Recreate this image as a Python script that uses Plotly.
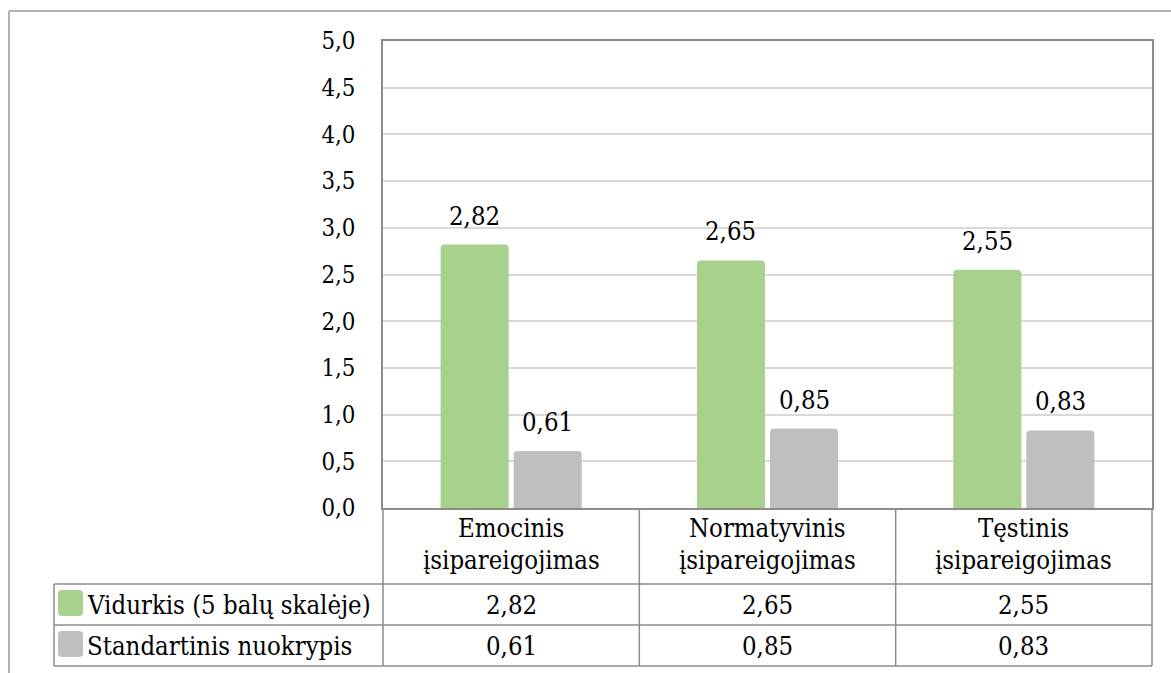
import plotly.graph_objects as go

# Data
categories = ["Emocinis<br>įsipareigojimas", "Normatyvinis<br>įsipareigojimas", "Tęstinis<br>įsipareigojimas"]
series_names = ["Vidurkis (5 balų skalėje)", "Standartinis nuokrypis"]
mean_values = [2.82, 2.65, 2.55]
sd_values = [0.61, 0.85, 0.83]
y_ticks = [0.0, 0.5, 1.0, 1.5, 2.0, 2.5, 3.0, 3.5, 4.0, 4.5, 5.0]

# Styling
W, H = 1171, 673
GREEN = "#A9D18E"
GREY = "#BFBFBF"
LINE = "#8C8C8C"
GRID = "#D9D9D9"
FONT = "DejaVu Serif Condensed"
TICK_SIZE = 23.8
TEXT_SIZE = 25.5
BARGAP = 0.43
GROUPGAP = 0.068


def fx(x):
    return x / W


def fy(y):
    return 1 - y / H


def fmt(v):
    return f"{v:.2f}".replace(".", ",")


# plot-area edges in pixels
PL, PR, PT, PB = 383, 1152, 41, 508
TL = 54                      # left edge of the legend column
ROW_TOP, ROW_MID, ROW_BOT = 584, 625, 666

x_idx = list(range(len(categories)))
series_values = [mean_values, sd_values]
colors = [GREEN, GREY]

fig = go.Figure()
for name, vals, col in zip(series_names, series_values, colors):
    fig.add_trace(go.Bar(
        x=x_idx, y=vals, name=name,
        marker=dict(color=col, line=dict(width=0), cornerradius=4),
        showlegend=False,
    ))

shapes = []


def hline(y, x0, x1, color=LINE, width=1.5):
    shapes.append(dict(type="line", xref="paper", yref="paper",
                       x0=fx(x0), x1=fx(x1), y0=fy(y), y1=fy(y),
                       line=dict(color=color, width=width)))


def vline(x, y0, y1, color=LINE, width=1.5):
    shapes.append(dict(type="line", xref="paper", yref="paper",
                       x0=fx(x), x1=fx(x), y0=fy(y0), y1=fy(y1),
                       line=dict(color=color, width=width)))


# outer chart frame
hline(11, 9, W, color="#9A9A9A", width=1.5)
vline(9, 11, H, color="#9A9A9A", width=1.5)

# data table grid
for y in (ROW_TOP, ROW_MID, ROW_BOT):
    hline(y, TL, PR)
vline(TL, ROW_TOP, ROW_BOT)
cat_w = (PR - PL) / len(categories)
for i in range(len(categories) + 1):
    vline(PL + i * cat_w, PB, ROW_BOT)

# legend keys in the table rows
def key_path(x0, y0, x1, y1, r=4):
    X0, X1 = fx(x0), fx(x1)
    Y0, Y1 = fy(y0), fy(y1)
    rx, ry = r / W, r / H
    return (f"M{X0+rx},{Y0} L{X1-rx},{Y0} Q{X1},{Y0} {X1},{Y0-ry} "
            f"L{X1},{Y1+ry} Q{X1},{Y1} {X1-rx},{Y1} L{X0+rx},{Y1} "
            f"Q{X0},{Y1} {X0},{Y1+ry} L{X0},{Y0-ry} Q{X0},{Y0} {X0+rx},{Y0} Z")


rows = [(ROW_TOP, ROW_MID), (ROW_MID, ROW_BOT)]
for (r0, r1), col in zip(rows, colors):
    shapes.append(dict(type="path", xref="paper", yref="paper",
                       path=key_path(58, r0 + 6, 83, r1 - 9),
                       fillcolor=col, line=dict(width=0)))

annotations = []
# value labels above the bars (grouped-bar offsets derived from the gap settings)
slot = (1 - BARGAP) / len(series_values)
for k, vals in enumerate(series_values):
    off = (k - (len(series_values) - 1) / 2) * slot
    for i, v in enumerate(vals):
        annotations.append(dict(xref="x", yref="y", x=i + off, y=v, text=fmt(v),
                                showarrow=False, xanchor="center", yanchor="bottom", yshift=12,
                                font=dict(family=FONT, size=TEXT_SIZE, color="black")))
# series names
for (r0, r1), name in zip(rows, series_names):
    annotations.append(dict(xref="paper", yref="paper", x=fx(85), y=fy((r0 + r1) / 2),
                            text=name, showarrow=False, xanchor="left", yanchor="middle",
                            font=dict(family=FONT, size=TEXT_SIZE, color="black")))
# category labels, one annotation per line
CAT_LINES_Y = [528, 560]
for i, cat in enumerate(categories):
    for line, ly in zip(cat.split("<br>"), CAT_LINES_Y):
        annotations.append(dict(xref="x", yref="paper", x=i, y=fy(ly),
                                text=line, showarrow=False, xanchor="center", yanchor="middle",
                                font=dict(family=FONT, size=TEXT_SIZE, color="black")))
# table values
for (r0, r1), vals in zip(rows, series_values):
    for i, v in enumerate(vals):
        annotations.append(dict(xref="x", yref="paper", x=i, y=fy((r0 + r1) / 2),
                                text=fmt(v), showarrow=False, xanchor="center", yanchor="middle",
                                font=dict(family=FONT, size=TEXT_SIZE, color="black")))

fig.update_layout(
    width=W, height=H,
    margin=dict(l=0, r=0, t=0, b=0, pad=0, autoexpand=False),
    paper_bgcolor="white", plot_bgcolor="white",
    separators=", ",
    barmode="group", bargap=BARGAP, bargroupgap=GROUPGAP,
    shapes=shapes, annotations=annotations,
    xaxis=dict(domain=[fx(PL), fx(PR)], range=[-0.5, len(categories) - 0.5],
               showticklabels=False, ticks="", showgrid=False, zeroline=False,
               showline=True, linecolor=LINE, linewidth=1.5, mirror=True,
               automargin=False, fixedrange=True),
    yaxis=dict(domain=[fy(PB), fy(PT)], range=[0, 5], tickvals=y_ticks,
               tickformat=".1f", showgrid=True, gridcolor=GRID, gridwidth=1.5,
               zeroline=False, showline=True, linecolor=LINE, linewidth=1.5, mirror=True,
               ticks="outside", ticklen=21, tickcolor="rgba(0,0,0,0)", automargin=False,
               tickfont=dict(family=FONT, size=TICK_SIZE, color="black"), fixedrange=True),
)

fig.write_html("out.html")
